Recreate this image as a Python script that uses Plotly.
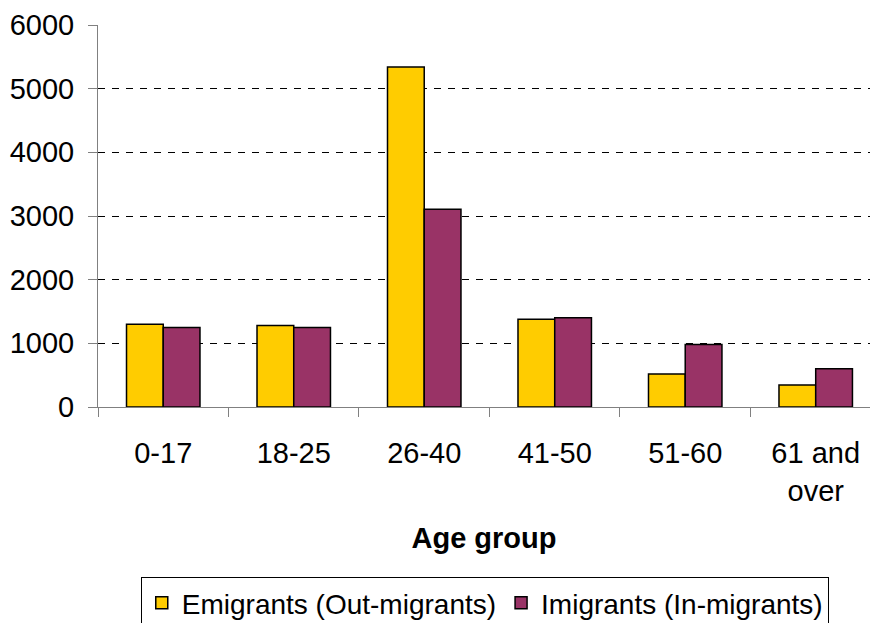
import plotly.graph_objects as go

categories = ["0-17", "18-25", "26-40", "41-50", "51-60", "61 and<br>over"]
emigrants = [1300, 1280, 5340, 1380, 520, 345]
immigrants = [1250, 1250, 3105, 1400, 980, 600]
y_ticks = [0, 1000, 2000, 3000, 4000, 5000, 6000]
grid_vals = [1000, 2000, 3000, 4000, 5000]

FONT = "Liberation Sans, Arial, sans-serif"

fig = go.Figure()
fig.add_trace(go.Bar(
    x=categories, y=emigrants, name="Emigrants (Out-migrants)",
    marker=dict(color="#FFCC00", line=dict(color="#000000", width=1.5)),
))
fig.add_trace(go.Bar(
    x=categories, y=immigrants, name="Imigrants (In-migrants)",
    marker=dict(color="#993366", line=dict(color="#000000", width=1.5)),
))
# invisible trace to host the dashed grid axis
fig.add_trace(go.Scatter(x=categories, y=[None]*len(categories), yaxis="y2",
                         showlegend=False, hoverinfo="skip"))

fig.update_layout(
    width=871, height=623,
    margin=dict(l=98, r=1, t=25, b=216, autoexpand=False),
    paper_bgcolor="white", plot_bgcolor="white",
    font=dict(family=FONT, size=29, color="black"),
    barmode="group", bargap=0.437, bargroupgap=0,
    xaxis=dict(
        type="category", range=[-0.5, 5.416], automargin=False,
        showline=True, linecolor="#808080", linewidth=1,
        ticks="outside", tickson="boundaries", ticklen=9, tickcolor="#808080",
        showgrid=False,
        tickfont=dict(size=29), ticklabelstandoff=20,
        title=dict(text="<b>Age group</b>", font=dict(size=29), standoff=22),
    ),
    yaxis=dict(
        range=[0, 6000], tickvals=y_ticks, automargin=False,
        showline=True, linecolor="#808080", linewidth=1,
        ticks="outside", ticklen=9, tickcolor="#808080",
        showgrid=False, zeroline=False,
        tickfont=dict(size=29), ticklabelstandoff=8,
    ),
    yaxis2=dict(
        range=[0, 6000], tickvals=grid_vals, overlaying="y", automargin=False,
        showticklabels=False, showgrid=True, gridcolor="#000000",
        griddash="7px,7px", gridwidth=1, zeroline=False, layer="below traces",
    ),
    legend=dict(
        orientation="h", x=0.501, xanchor="center", y=-0.445, yanchor="top",
        bordercolor="#000000", borderwidth=1,
        font=dict(size=28), traceorder="normal", itemwidth=30,
    ),
    showlegend=True,
)

fig.write_html("out.html")
